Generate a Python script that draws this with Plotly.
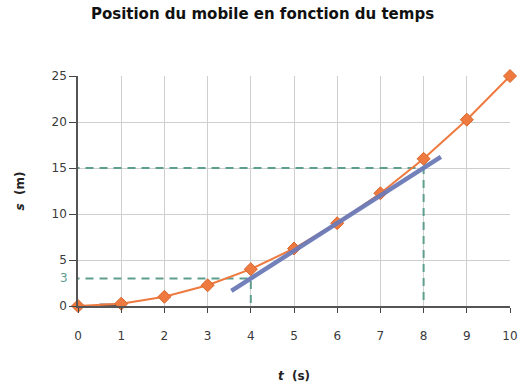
import plotly.graph_objects as go

# Position of the moving object over time
t_values = [0, 1, 2, 3, 4, 5, 6, 7, 8, 9, 10]
s_values = [0, 0.25, 1, 2.25, 4, 6.25, 9, 12.25, 16, 20.25, 25]

# Tangent drawn through the curve around t = 6
tangent_t = [3.55, 8.4]
tangent_s = [1.65, 16.2]

# Short horizontal tangent near the origin
origin_tangent_t = [0.5, 1.1]
origin_tangent_s = [0.1, 0.1]

# Reading points on the tangent (t, s)
guide_t = [4, 8]
guide_s = [3, 15]

y_ticks = [0, 5, 10, 15, 20, 25]
x_ticks = list(range(0, 11))

orange = "#EE7A3F"
teal = "#5E9E8E"
slate = "#6C7BB8"

fig = go.Figure()

# Dashed guides from each reading point to both axes
for gt, gs in zip(guide_t, guide_s):
    fig.add_trace(go.Scatter(
        x=[-0.15, gt, gt], y=[gs, gs, -0.4],
        mode="lines", line=dict(color=teal, width=2, dash="8px,6px"),
        hoverinfo="skip", showlegend=False, cliponaxis=False,
    ))

fig.add_trace(go.Scatter(
    x=origin_tangent_t, y=origin_tangent_s, mode="lines",
    line=dict(color="#555555", width=3), showlegend=False, hoverinfo="skip",
))

fig.add_trace(go.Scatter(
    x=t_values, y=s_values, mode="lines+markers",
    line=dict(color=orange, width=2),
    marker=dict(symbol="diamond", size=10, color=orange,
                line=dict(color="#D9652A", width=1)),
    showlegend=False, cliponaxis=False,
))

fig.add_trace(go.Scatter(
    x=tangent_t, y=tangent_s, mode="lines",
    line=dict(color=slate, width=4.5), opacity=0.95,
    showlegend=False, hoverinfo="skip",
))

# Teal label for the reading at s = 3
fig.add_annotation(
    x=0, y=guide_s[0], xref="x", yref="y", text=str(guide_s[0]),
    showarrow=False, xanchor="right", xshift=-8,
    font=dict(family="DejaVu Sans", size=12, color=teal),
)

fig.update_layout(
    width=525, height=387,
    margin=dict(l=78, r=15, t=76, b=81, autoexpand=False),
    paper_bgcolor="white", plot_bgcolor="white",
    title=dict(
        text="Position du mobile en fonction du temps",
        x=0.5, xanchor="center", y=0.964, yanchor="middle",
        font=dict(family="DejaVu Sans", size=15, color="#111111", weight="bold"),
    ),
    xaxis=dict(
        range=[0, 10], tickvals=x_ticks, ticks="outside", ticklen=5,
        tickcolor="#444444", showline=True, linecolor="#555555", linewidth=1.5,
        showgrid=True, gridcolor="#cfcfcf", gridwidth=1, zeroline=False,
        ticklabelstandoff=13, automargin=False,
        tickfont=dict(family="DejaVu Sans", size=12, color="#3a3a3a"),
        title=dict(text="<b><i>t</i>  (s)</b>", standoff=29,
                   font=dict(family="DejaVu Sans", size=12, color="#222222")),
    ),
    yaxis=dict(
        range=[0, 25], tickvals=y_ticks, ticks="outside", ticklen=7,
        tickcolor="#444444", showline=True, linecolor="#555555", linewidth=1.5,
        showgrid=True, gridcolor="#cfcfcf", gridwidth=1, zeroline=False,
        automargin=False,
        tickfont=dict(family="DejaVu Sans", size=12, color="#3a3a3a"),
        title=dict(text="<b><i>s</i>  (m)</b>", standoff=24,
                   font=dict(family="DejaVu Sans", size=12, color="#222222")),
    ),
)

fig.write_html("out.html")
